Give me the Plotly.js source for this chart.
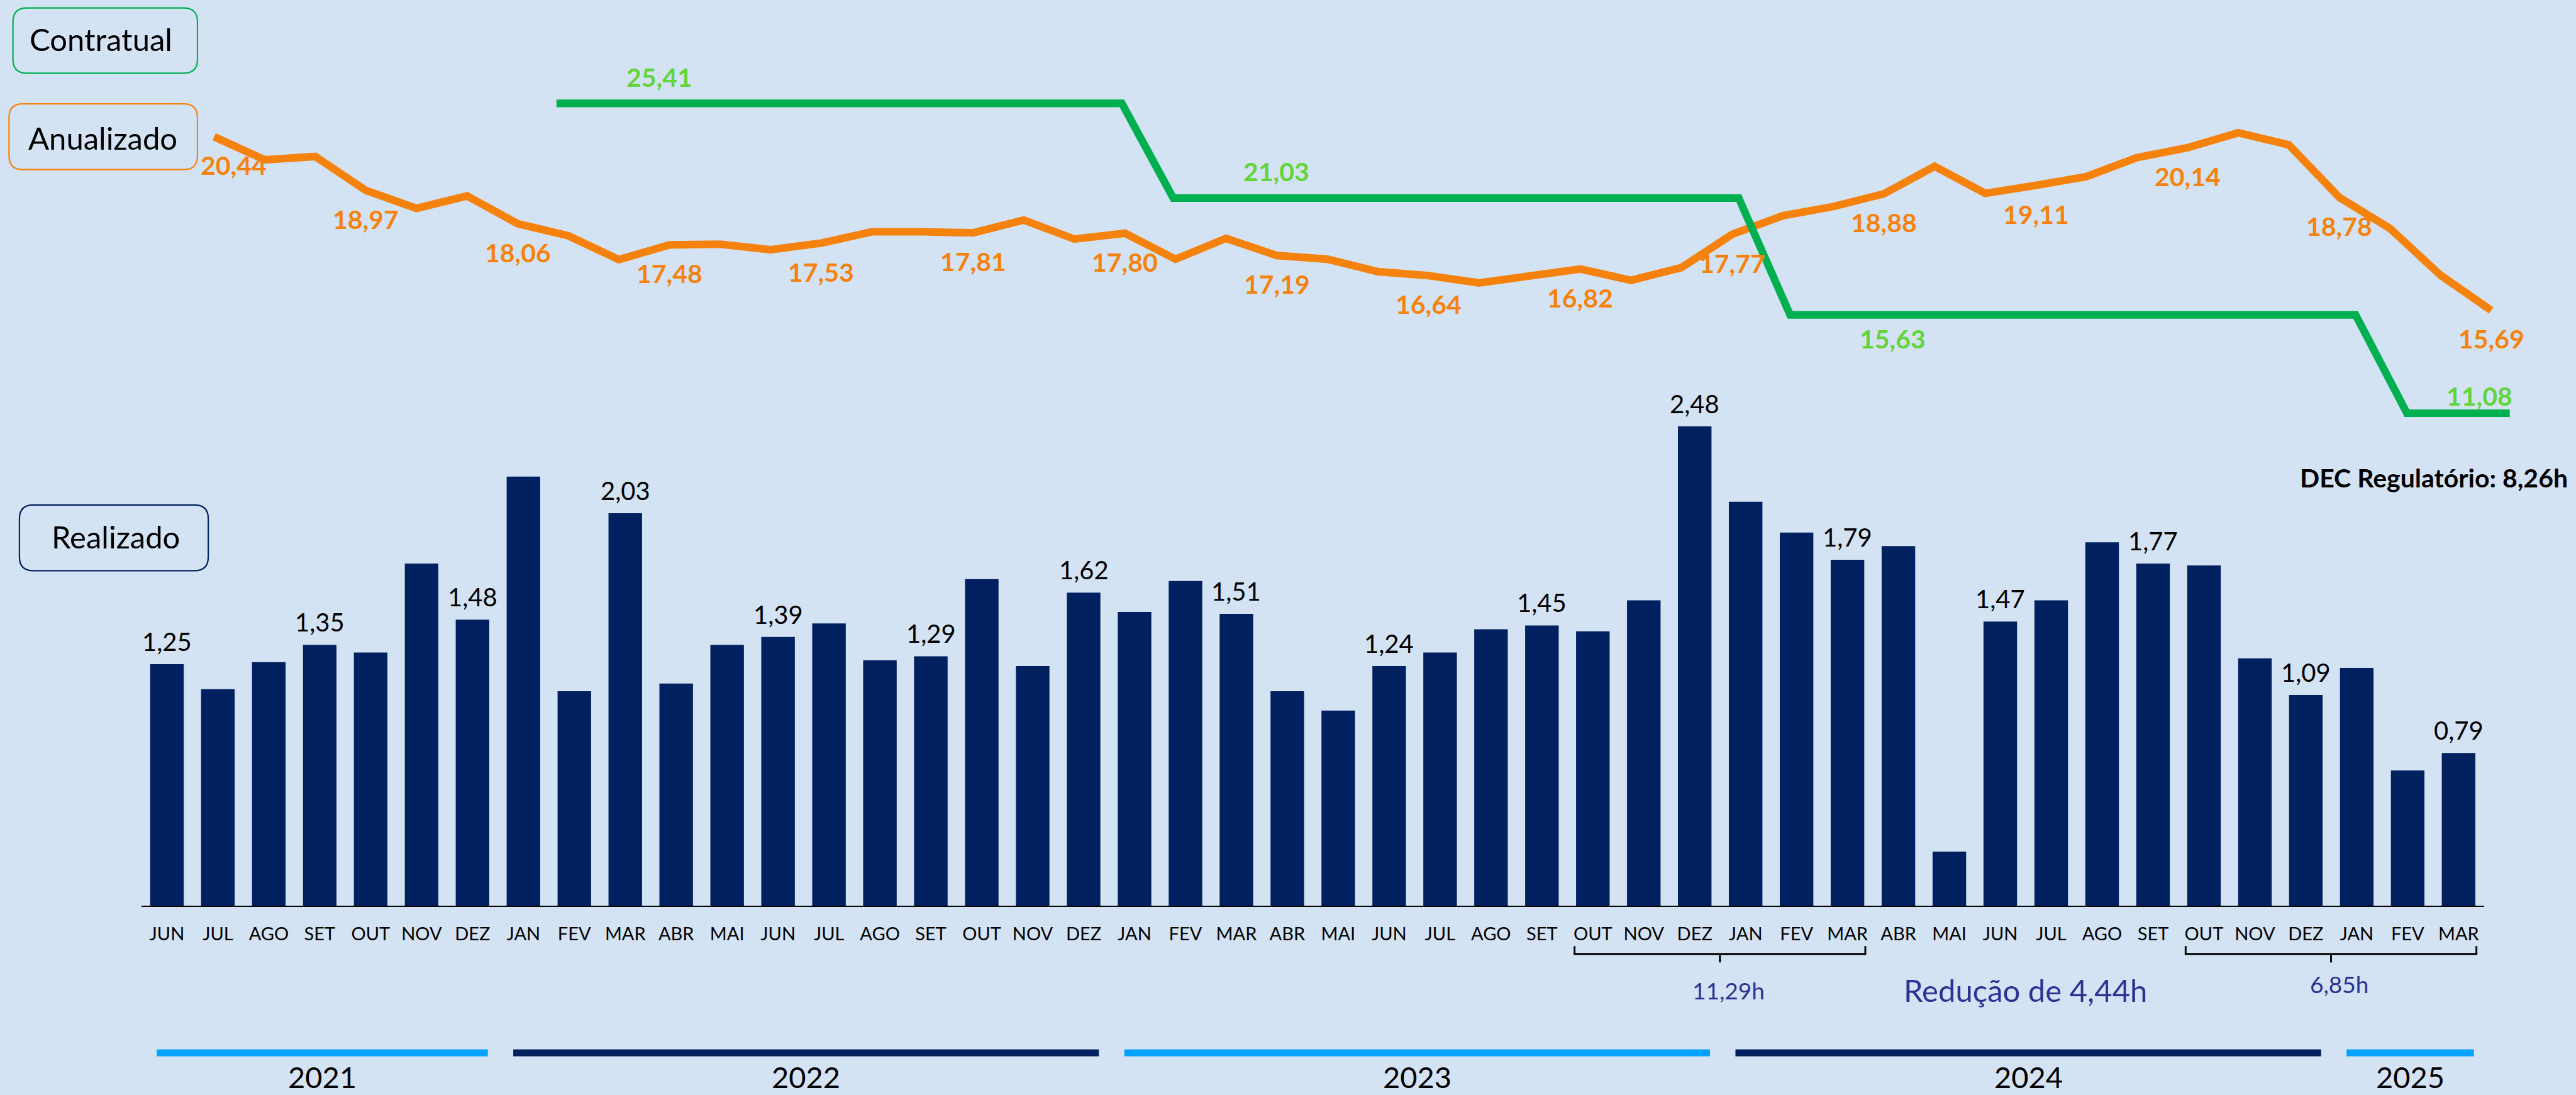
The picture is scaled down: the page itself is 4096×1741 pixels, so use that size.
<!DOCTYPE html>
<html>
<head>
<meta charset="utf-8">
<script src="https://cdn.plot.ly/plotly-3.0.1.min.js"></script>
<style>
html,body{margin:0;padding:0;background:#D4E3F3;}
#chart{width:4096px;height:1741px;}
</style>
</head>
<body>
<div id="chart"></div>
<script>
// ---------------- DATA ----------------
const months = ['JUN','JUL','AGO','SET','OUT','NOV','DEZ',
  'JAN','FEV','MAR','ABR','MAI','JUN','JUL','AGO','SET','OUT','NOV','DEZ',
  'JAN','FEV','MAR','ABR','MAI','JUN','JUL','AGO','SET','OUT','NOV','DEZ',
  'JAN','FEV','MAR','ABR','MAI','JUN','JUL','AGO','SET','OUT','NOV','DEZ',
  'JAN','FEV','MAR'];
const years = ['2021','2022','2023','2024','2025'];
const monthsPerYear = [7, 12, 12, 12, 3];

// Realizado (monthly DEC, h)
const realizado = [1.25, 1.12, 1.26, 1.35, 1.31, 1.77, 1.48,
  2.22, 1.11, 2.03, 1.15, 1.35, 1.39, 1.46, 1.27, 1.29, 1.69, 1.24, 1.62,
  1.52, 1.68, 1.51, 1.11, 1.01, 1.24, 1.31, 1.43, 1.45, 1.42, 1.58, 2.48,
  2.09, 1.93, 1.79, 1.86, 0.28, 1.47, 1.58, 1.88, 1.77, 1.76, 1.28, 1.09,
  1.23, 0.70, 0.79];

// Anualizado (12-month rolling DEC, h)
const anualizado = [20.44, 19.81, 19.90, 18.97, 18.48, 18.82, 18.06, 17.73, 17.08,
  17.48, 17.50, 17.35, 17.53, 17.84, 17.84, 17.81, 18.16, 17.64, 17.80, 17.09,
  17.66, 17.19, 17.09, 16.75, 16.64, 16.44, 16.63, 16.82, 16.51, 16.86, 17.77,
  18.28, 18.53, 18.88, 19.63, 18.89, 19.11, 19.35, 19.87, 20.14, 20.55, 20.22,
  18.78, 17.93, 16.65, 15.69];

// Contratual (limit, h) from JAN 2022 to MAR 2025
const contratual = [25.41, 25.41, 25.41, 25.41, 25.41, 25.41, 25.41, 25.41, 25.41, 25.41, 25.41, 25.41,
  21.03, 21.03, 21.03, 21.03, 21.03, 21.03, 21.03, 21.03, 21.03, 21.03, 21.03, 21.03,
  15.63, 15.63, 15.63, 15.63, 15.63, 15.63, 15.63, 15.63, 15.63, 15.63, 15.63, 15.63,
  11.08, 11.08, 11.08];
const contratualLabelIdx = [2, 14, 26, 38];
const contratualLabelSide = ['above', 'above', 'below', 'aboveLeft'];

// comparison periods (OUT-MAR)
const periodStart = [28, 40];
const periodEnd = [33, 45];
const decRegulatorio = '8,26h';

// ---------------- LAYOUT HELPERS ----------------
const W = 4861, H = 2066, S = 4096 / 4861;
const PX = X => X / W;
const PY = Y => 1 - Y / H;
const fmt = v => v.toFixed(2).replace('.', ',');
const FONT = 'Lato, "Open Sans", "Noto Sans", sans-serif';

const C_BG = '#D4E3F3';
const C_BAR = '#002060';
const C_ORANGE = '#F5820D';
const C_GREEN = '#00B050';
const C_GREEN_TXT = '#62D53A';
const C_NAVY_TXT = '#2D3192';
const C_LIGHTBLUE = '#00A2FF';

const idx = months.map((m, i) => i);
const idxC = contratual.map((v, i) => i);

const traces = [
  {type: 'bar', x: idx, y: realizado, xaxis: 'x', yaxis: 'y',
   marker: {color: C_BAR, line: {width: 0}}, hoverinfo: 'skip'},
  {type: 'scatter', mode: 'lines', x: idx, y: anualizado, xaxis: 'x2', yaxis: 'y2',
   line: {color: C_ORANGE, width: 14.5 * S}, cliponaxis: false, hoverinfo: 'skip'},
  {type: 'scatter', mode: 'lines', x: idxC, y: contratual, xaxis: 'x3', yaxis: 'y3',
   line: {color: C_GREEN, width: 14.5 * S}, cliponaxis: false, hoverinfo: 'skip'}
];

const annotations = [];
const shapes = [];

// bar labels
realizado.forEach((v, i) => {
  if (i % 3 === 0) annotations.push({xref: 'x', yref: 'y', x: i, y: v, text: fmt(v),
    showarrow: false, yanchor: 'middle', yshift: 43 * S,
    font: {family: FONT, size: 40, color: '#000'}});
});
// anualizado labels
anualizado.forEach((v, i) => {
  if (i % 3 === 0) annotations.push({xref: 'x2', yref: 'y2', x: i, y: v, text: fmt(v),
    showarrow: false, yanchor: 'middle', yshift: -54 * S, xshift: i === 0 ? 37 * S : 0,
    font: {family: FONT, size: 41, color: C_ORANGE, weight: 700}});
});
// contratual labels
contratualLabelIdx.forEach((j, k) => {
  const side = contratualLabelSide[k];
  const a = {xref: 'x3', yref: 'y3', x: j, y: contratual[j], text: fmt(contratual[j]),
    showarrow: false, yanchor: 'middle',
    font: {family: FONT, size: 41, color: C_GREEN_TXT, weight: 700}};
  if (side === 'above') a.yshift = 50 * S;
  else if (side === 'below') a.yshift = -45 * S;
  else { a.yshift = 33 * S; a.xanchor = 'right'; a.xshift = 8 * S; }
  annotations.push(a);
});

// legend-like boxes
function roundRect(X0, Y0, X1, Y1, r) {
  const x0 = PX(X0), x1 = PX(X1), yt = PY(Y0), yb = PY(Y1), rx = r / W, ry = r / H;
  return `M ${x0 + rx},${yt} L ${x1 - rx},${yt} Q ${x1},${yt} ${x1},${yt - ry} ` +
    `L ${x1},${yb + ry} Q ${x1},${yb} ${x1 - rx},${yb} L ${x0 + rx},${yb} ` +
    `Q ${x0},${yb} ${x0},${yb + ry} L ${x0},${yt - ry} Q ${x0},${yt} ${x0 + rx},${yt} Z`;
}
const boxes = [
  {t: 'Contratual', c: C_GREEN, b: [24.5, 15, 372.6, 138], tx: 191, ty: 73},
  {t: 'Anualizado', c: C_ORANGE, b: [17, 196, 372.6, 320], tx: 193.6, ty: 260},
  {t: 'Realizado', c: C_BAR, b: [36.7, 952.7, 393, 1076.7], tx: 218, ty: 1011.7}
];
boxes.forEach(bx => {
  shapes.push({type: 'path', xref: 'paper', yref: 'paper', path: roundRect(...bx.b, 26),
    line: {color: bx.c, width: 2.2}, fillcolor: 'rgba(0,0,0,0)'});
  annotations.push({xref: 'paper', yref: 'paper', x: PX(bx.tx), y: PY(bx.ty), text: bx.t,
    showarrow: false, xanchor: 'center', yanchor: 'middle',
    font: {family: FONT, size: 49, color: '#000'}});
});

// DEC Regulatório
annotations.push({xref: 'paper', yref: 'paper', x: PX(4848), y: PY(901), text: 'DEC Regulatório: ' + decRegulatorio,
  showarrow: false, xanchor: 'right', yanchor: 'middle',
  font: {family: FONT, size: 41, color: '#000', weight: 700}});

// brackets & period sums
const sums = periodStart.map((s, k) => realizado.slice(s, periodEnd[k] + 1).reduce((a, b) => a + b, 0));
const centers = [];
periodStart.forEach((s, k) => {
  const xl = s - 0.36, xr = periodEnd[k] + 0.35, xc = (xl + xr) / 2;
  centers.push(xc);
  const yt = PY(1785), yh = PY(1800), ys = PY(1816);
  shapes.push({type: 'path', xref: 'x', yref: 'paper',
    path: `M ${xl},${yt} L ${xl},${yh} L ${xr},${yh} L ${xr},${yt} M ${xc},${yh} L ${xc},${ys}`,
    line: {color: '#000', width: 3.5 * S}});
  annotations.push({xref: 'x', yref: 'paper', x: xc, y: PY(k === 0 ? 1869 : 1857), xshift: 16 * S,
    text: fmt(sums[k]) + 'h', showarrow: false, xanchor: 'center', yanchor: 'middle',
    font: {family: FONT, size: 37, color: C_NAVY_TXT}});
});
annotations.push({xref: 'x', yref: 'paper', x: (centers[0] + centers[1]) / 2, y: PY(1868),
  text: 'Redução de ' + fmt(sums[0] - sums[1]) + 'h', showarrow: false, xanchor: 'center', yanchor: 'middle',
  font: {family: FONT, size: 49, color: C_NAVY_TXT}});

// year bands
let start = 0;
years.forEach((yr, k) => {
  const first = start, last = start + monthsPerYear[k] - 1;
  start += monthsPerYear[k];
  const x0 = first - 0.2, x1 = last + 0.3;
  shapes.push({type: 'rect', xref: 'x', yref: 'paper', x0: x0, x1: x1, y0: PY(1993), y1: PY(1980),
    fillcolor: k % 2 === 0 ? C_LIGHTBLUE : C_BAR, line: {width: 0}});
  annotations.push({xref: 'x', yref: 'paper', x: (x0 + x1) / 2, y: 0, text: yr,
    showarrow: false, xanchor: 'center', yanchor: 'bottom', borderpad: 0,
    font: {family: FONT, size: 47, color: '#000'}});
});

const hidden = {visible: true, showgrid: false, zeroline: false, showline: false, showticklabels: false, ticks: ''};

const layout = {
  width: 4096, height: 1741,
  margin: {l: 0, r: 0, t: 0, b: 0, pad: 0},
  paper_bgcolor: C_BG, plot_bgcolor: 'rgba(0,0,0,0)',
  showlegend: false,
  bargap: 0.341,
  font: {family: FONT, color: '#000'},
  xaxis: {domain: [PX(267), PX(4687.5)], range: [-0.5, 45.5], tickmode: 'array', tickvals: idx, ticktext: months,
    tickfont: {family: FONT, size: 29, color: '#000'}, showline: true, linecolor: '#000', linewidth: 2.2,
    showgrid: false, zeroline: false, ticks: '', ticklabelstandoff: 18, fixedrange: true},
  yaxis: Object.assign({domain: [PY(1709), PY(1709 - 2.7 * 364.8)], range: [0, 2.7]}, hidden),
  xaxis2: Object.assign({domain: [PX(404 - 47.75), PX(4701 + 47.75)], range: [-0.5, 45.5], anchor: 'y2'}, hidden),
  yaxis2: Object.assign({domain: [PY(840), PY(12.5)], range: [12, 24], anchor: 'x2'}, hidden),
  xaxis3: Object.assign({domain: [PX(1050 - 48.5), PX(4736 + 48.5)], range: [-0.5, 38.5], anchor: 'y3'}, hidden),
  yaxis3: Object.assign({domain: [PY(905.3), PY(89.3)], range: [8, 28], anchor: 'x3'}, hidden),
  shapes: shapes,
  annotations: annotations
};

Plotly.newPlot('chart', traces, layout, {staticPlot: true, displayModeBar: false});
</script>
</body>
</html>
